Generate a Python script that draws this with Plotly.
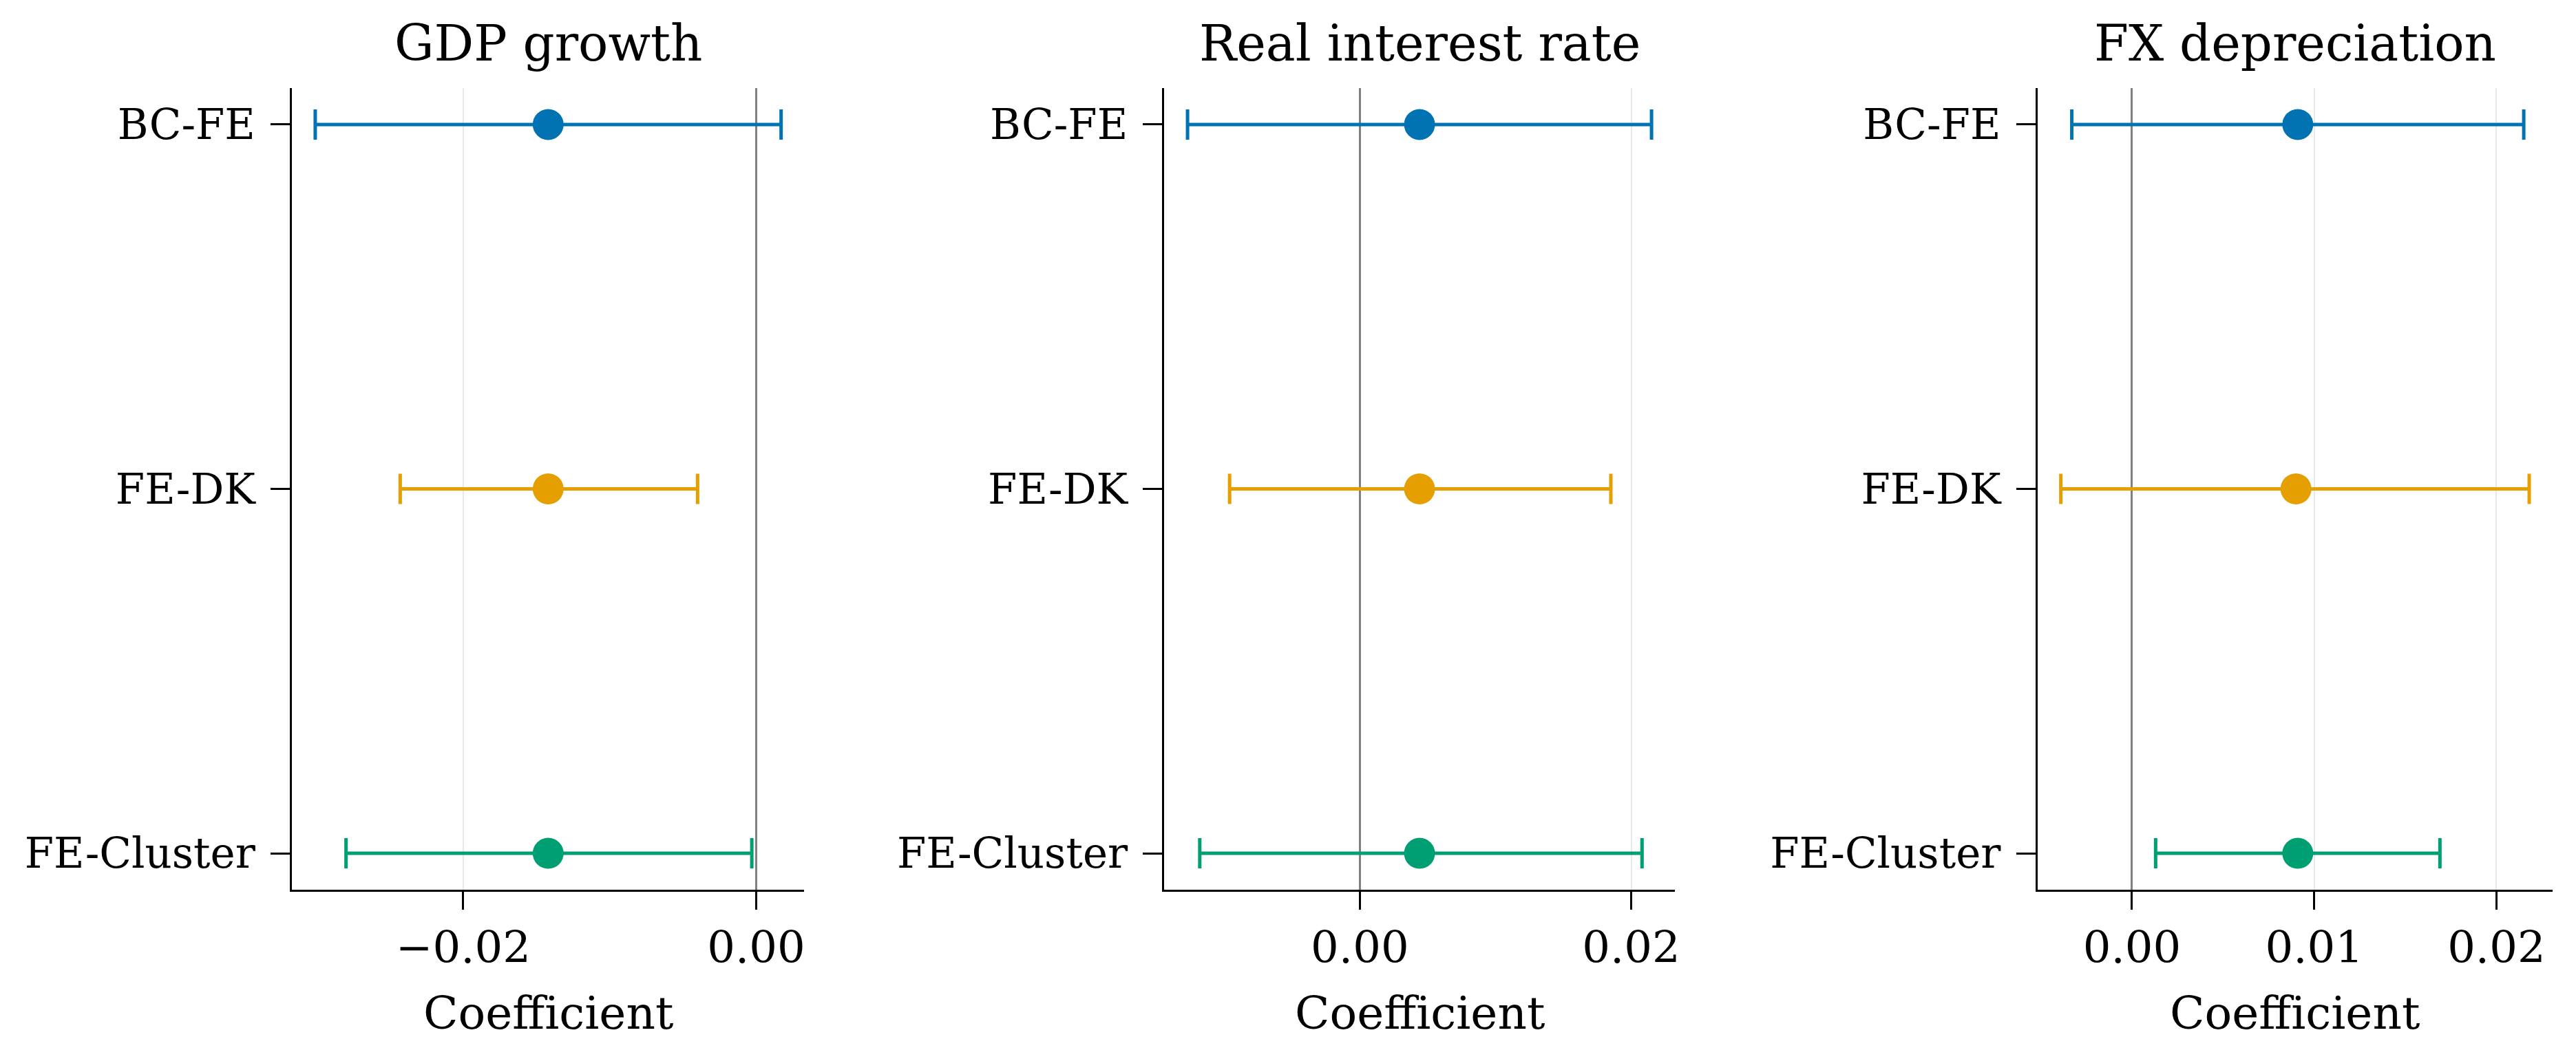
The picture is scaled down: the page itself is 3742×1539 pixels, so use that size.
import plotly.graph_objects as go

models = ["BC-FE", "FE-DK", "FE-Cluster"]
colors = ["#0173B2", "#E69F00", "#009E73"]
panel_titles = ["GDP growth", "Real interest rate", "FX depreciation"]

gdp_coef = [-0.0142, -0.0142, -0.0142]
gdp_lo = [-0.0301, -0.0243, -0.0280]
gdp_hi = [0.0017, -0.0040, -0.0003]

rir_coef = [0.0044, 0.0044, 0.0044]
rir_lo = [-0.0127, -0.0096, -0.0118]
rir_hi = [0.0215, 0.0185, 0.0208]

fx_coef = [0.0091, 0.0090, 0.0091]
fx_lo = [-0.0033, -0.0039, 0.0013]
fx_hi = [0.0215, 0.0218, 0.0169]

x_dtick = [0.02, 0.02, 0.01]

panels = [
    (gdp_coef, gdp_lo, gdp_hi),
    (rir_coef, rir_lo, rir_hi),
    (fx_coef, fx_lo, fx_hi),
]

W, H = 3742, 1539
x_domains = [[425 / W, 1171 / W], [1695 / W, 2438 / W], [2966 / W, 3716 / W]]
y_domain = [1 - 1293 / H, 1 - 128 / H]

FONT = "DejaVu Serif"
fig = go.Figure()
layout = dict(
    width=W, height=H,
    margin=dict(l=0, r=0, t=0, b=0),
    paper_bgcolor="white", plot_bgcolor="white",
    showlegend=False,
    font=dict(family=FONT, color="black"),
    annotations=[],
)

for p, (coef, lo, hi) in enumerate(panels):
    xa = "x" if p == 0 else f"x{p+1}"
    ya = "y" if p == 0 else f"y{p+1}"
    for i, m in enumerate(models):
        fig.add_trace(go.Scatter(
            x=[coef[i]], y=[m], xaxis=xa, yaxis=ya,
            mode="markers",
            marker=dict(size=45, color=colors[i]),
            error_x=dict(type="data", symmetric=False,
                         array=[hi[i] - coef[i]], arrayminus=[coef[i] - lo[i]],
                         color=colors[i], thickness=5, width=22),
            hoverinfo="skip",
        ))
    dmin, dmax = min(lo), max(hi)
    pad = 0.05 * (dmax - dmin)
    key = "" if p == 0 else str(p + 1)
    layout["xaxis" + key] = dict(
        domain=x_domains[p], anchor=ya, range=[dmin - pad, dmax + pad],
        dtick=x_dtick[p], tick0=0, tickformat=".2f",
        showgrid=True, gridcolor="#e8e8e8", gridwidth=2,
        zeroline=True, zerolinecolor="#808080", zerolinewidth=3,
        showline=True, linecolor="black", linewidth=3,
        ticks="outside", ticklen=26, tickwidth=3, tickcolor="black",
        tickfont=dict(family=FONT, size=64, color="black"),
        ticklabelstandoff=0,
    )
    layout["yaxis" + key] = dict(
        domain=y_domain, anchor=xa, type="category",
        categoryorder="array", categoryarray=models[::-1],
        range=[-0.1, 2.1],
        showgrid=False, zeroline=False,
        showline=True, linecolor="black", linewidth=3,
        ticks="outside", ticklen=28, tickwidth=3, tickcolor="black",
        tickfont=dict(family=FONT, size=61, color="black"),
        ticklabelstandoff=10,
    )
    xc = (x_domains[p][0] + x_domains[p][1]) / 2
    layout["annotations"].append(dict(
        text=panel_titles[p], x=xc, y=1 - 63 / H, xref="paper", yref="paper",
        xanchor="center", yanchor="middle", showarrow=False,
        font=dict(family=FONT, size=72, color="black")))
    layout["annotations"].append(dict(
        text="Coefficient", x=xc, y=1 - 1472 / H, xref="paper", yref="paper",
        xanchor="center", yanchor="middle", showarrow=False,
        font=dict(family=FONT, size=66, color="black")))

fig.update_layout(**layout)
fig.write_html("out.html")
